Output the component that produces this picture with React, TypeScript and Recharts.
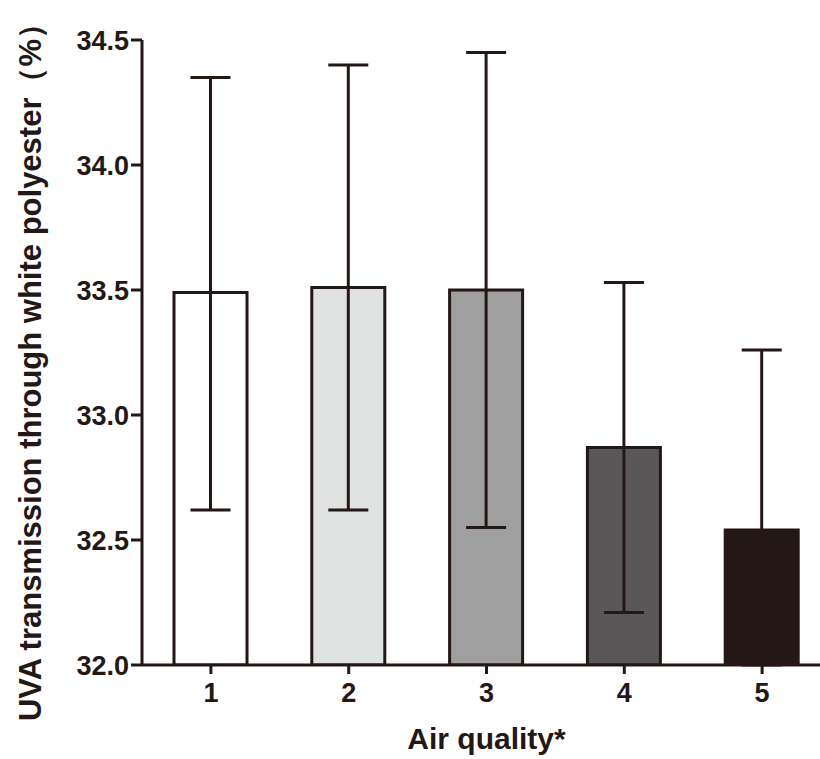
import React from "react";
import { BarChart, Bar, XAxis, YAxis, ErrorBar, Cell } from "recharts";

const categories = ["1", "2", "3", "4", "5"];
const means = [33.49, 33.51, 33.5, 32.87, 32.54];
// lower whisker of group 5 is hidden inside its black bar
const errLow = [0.87, 0.89, 0.95, 0.66, 0.54];
const errHigh = [0.86, 0.89, 0.95, 0.66, 0.72];
const yTicks = [32.0, 32.5, 33.0, 33.5, 34.0, 34.5];
const fills = ["#ffffff", "#e0e1e1", "#9f9f9f", "#595757", "#231815"];

const INK = "#231815";
const FONT = "'Liberation Sans', Arial, sans-serif";

const data = categories.map((c, i) => ({
  name: c,
  value: means[i],
  err: [errLow[i], errHigh[i]],
}));

function YLabel(props: any) {
  const vb = props.viewBox;
  const cx = 41;
  const cy = vb.y + vb.height / 2 + 12;
  return (
    <text
      x={cx}
      y={cy}
      transform={`rotate(-90, ${cx}, ${cy})`}
      textAnchor="middle"
      fontFamily={FONT}
      fontWeight="bold"
      fontSize={31}
      fill={INK}
    >
      UVA transmission through white polyester（%）
    </text>
  );
}

function XLabel(props: any) {
  const vb = props.viewBox;
  return (
    <text
      x={vb.x + vb.width / 2}
      y={749}
      textAnchor="middle"
      fontFamily={FONT}
      fontWeight="bold"
      fontSize={30}
      fill={INK}
    >
      Air quality*
    </text>
  );
}

export default function App() {
  return (
    <div
      style={{
        position: "absolute",
        left: 0,
        top: 0,
        width: 820,
        height: 759,
        overflow: "hidden",
        background: "#fff",
      }}
    >
      <BarChart
        width={831}
        height={759}
        data={data}
        margin={{ top: 40, right: 0, left: 0, bottom: 0 }}
        barCategoryGap={0}
      >
        <XAxis
          dataKey="name"
          height={94}
          axisLine={{ stroke: INK, strokeWidth: 3 }}
          tickLine={{ stroke: INK, strokeWidth: 3 }}
          tickSize={9}
          tickMargin={9}
          tick={{ fontSize: 27, fontWeight: "bold", fill: INK, fontFamily: FONT }}
          label={<XLabel />}
        />
        <YAxis
          width={142}
          domain={[32, 34.5]}
          ticks={yTicks}
          allowDataOverflow
          interval={0}
          axisLine={{ stroke: INK, strokeWidth: 3 }}
          tickLine={{ stroke: INK, strokeWidth: 3 }}
          tickSize={11}
          tickMargin={2}
          tickFormatter={(v: number) => v.toFixed(1)}
          tick={{ fontSize: 27, fontWeight: "bold", fill: INK, fontFamily: FONT }}
          label={<YLabel />}
        />
        <Bar
          dataKey="value"
          barSize={73}
          stroke={INK}
          strokeWidth={3}
          isAnimationActive={false}
        >
          {data.map((d, i) => (
            <Cell key={d.name} fill={fills[i]} />
          ))}
          <ErrorBar
            dataKey="err"
            width={20}
            stroke={INK}
            strokeWidth={3}
            isAnimationActive={false}
          />
        </Bar>
      </BarChart>
    </div>
  );
}
